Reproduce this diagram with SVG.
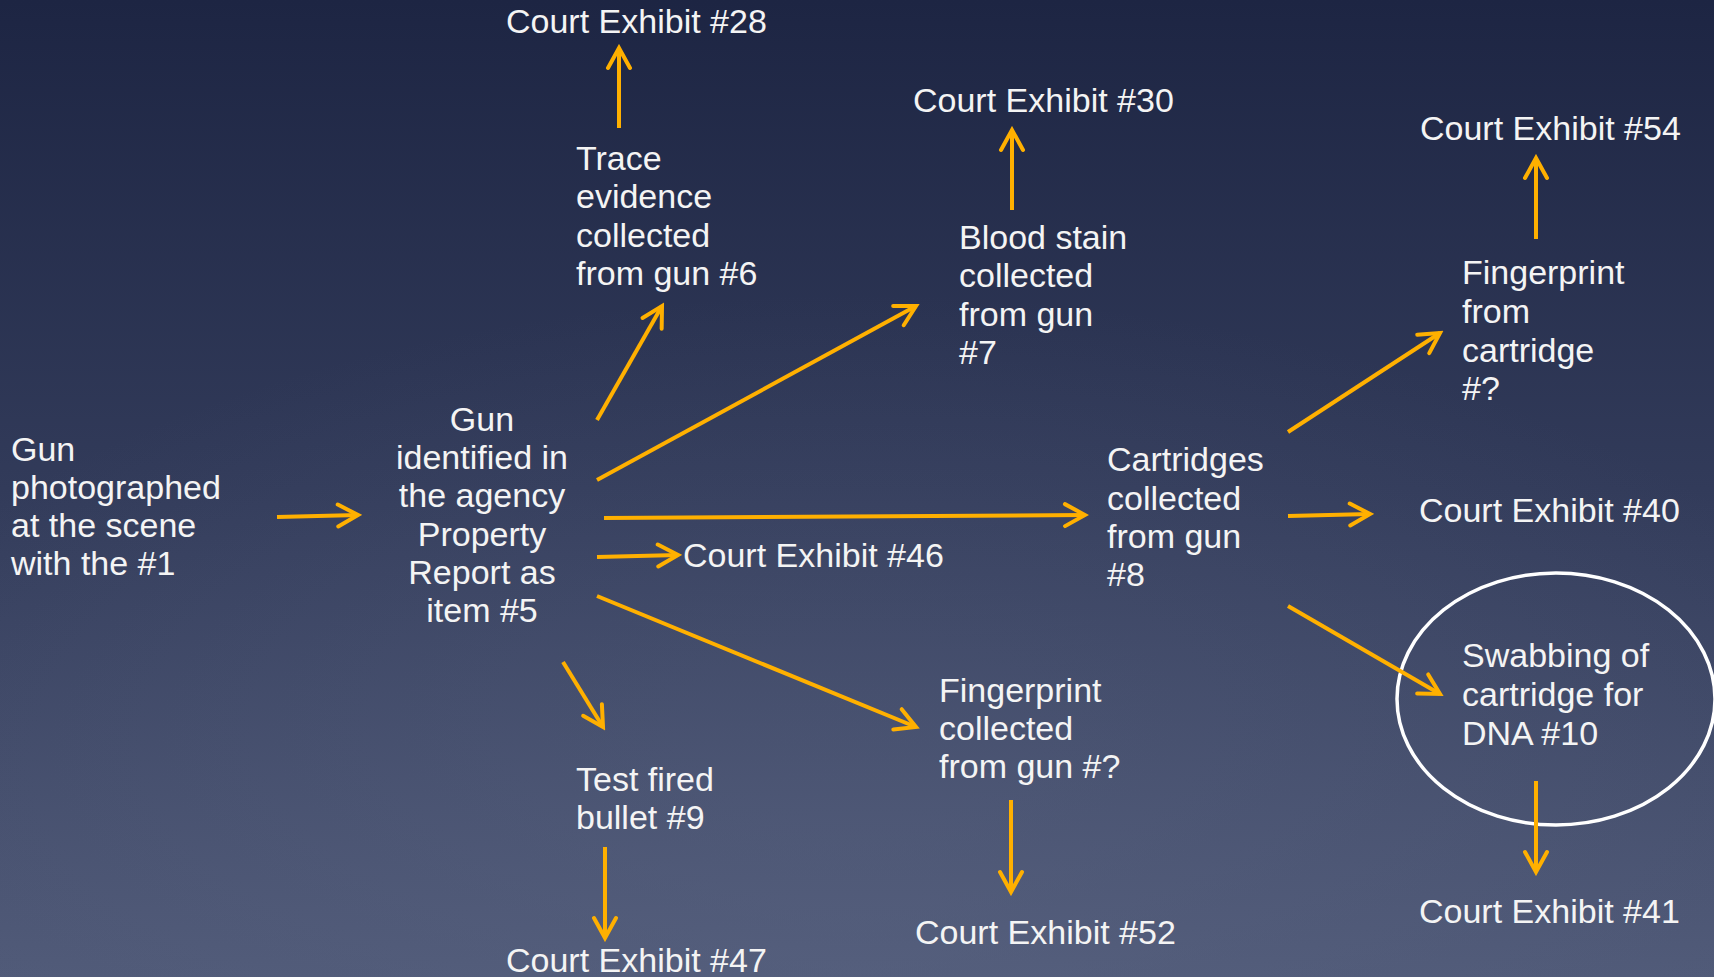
<svg xmlns="http://www.w3.org/2000/svg" width="1714" height="977" viewBox="0 0 1714 977">
<defs>
<linearGradient id="bg" x1="0" y1="0" x2="0" y2="1">
<stop offset="0" stop-color="#1d2543"/>
<stop offset="0.5" stop-color="#323b5a"/>
<stop offset="1" stop-color="#4f5977"/>
</linearGradient>
<radialGradient id="glow" cx="0.5" cy="1" r="0.7">
<stop offset="0" stop-color="#5a6482" stop-opacity="0.5"/>
<stop offset="1" stop-color="#5a6482" stop-opacity="0"/>
</radialGradient>
<marker id="ah" markerUnits="userSpaceOnUse" viewBox="-24 -14 28 28" markerWidth="28" markerHeight="28" refX="0" refY="0" orient="auto">
<path d="M -20 -11 L 0 0 L -20 11" fill="none" stroke="#FFB000" stroke-width="4" stroke-linecap="round" stroke-linejoin="miter"/>
</marker>
</defs>
<style>
.t{font-family:"Liberation Sans",Arial,sans-serif;font-size:34px;fill:#f4f4f4}
.c{text-anchor:middle}
.a{fill:none;stroke:#FFB000;stroke-width:4;marker-end:url(#ah)}
</style>
<rect width="1714" height="977" fill="url(#bg)"/>
<rect width="1714" height="977" fill="url(#glow)"/>

<g id="n-photographed"><text class="t"><tspan x="11" y="461">Gun</tspan><tspan x="11" y="499">photographed</tspan><tspan x="11" y="537">at the scene</tspan><tspan x="11" y="575">with the #1</tspan></text></g>
<g id="n-gun"><text class="t c"><tspan x="482" y="431">Gun</tspan><tspan x="482" y="469">identified in</tspan><tspan x="482" y="507">the agency</tspan><tspan x="482" y="546">Property</tspan><tspan x="482" y="584">Report as</tspan><tspan x="482" y="622">item #5</tspan></text></g>
<g id="n-trace"><text class="t"><tspan x="576" y="170">Trace</tspan><tspan x="576" y="208">evidence</tspan><tspan x="576" y="247">collected</tspan><tspan x="576" y="285">from gun #6</tspan></text></g>
<g id="n-ce28"><text class="t" x="506" y="33">Court Exhibit #28</text></g>
<g id="n-blood"><text class="t"><tspan x="959" y="249">Blood stain</tspan><tspan x="959" y="287">collected</tspan><tspan x="959" y="326">from gun</tspan><tspan x="959" y="364">#7</tspan></text></g>
<g id="n-ce30"><text class="t" x="913" y="112">Court Exhibit #30</text></g>
<g id="n-ce46"><text class="t" x="683" y="567">Court Exhibit #46</text></g>
<g id="n-test"><text class="t"><tspan x="576" y="791">Test fired</tspan><tspan x="576" y="829">bullet #9</tspan></text></g>
<g id="n-ce47"><text class="t" x="506" y="972">Court Exhibit #47</text></g>
<g id="n-fpgun"><text class="t"><tspan x="939" y="702">Fingerprint</tspan><tspan x="939" y="740">collected</tspan><tspan x="939" y="778">from gun #?</tspan></text></g>
<g id="n-ce52"><text class="t" x="915" y="944">Court Exhibit #52</text></g>
<g id="n-cart"><text class="t"><tspan x="1107" y="471">Cartridges</tspan><tspan x="1107" y="510">collected</tspan><tspan x="1107" y="548">from gun</tspan><tspan x="1107" y="586">#8</tspan></text></g>
<g id="n-fpcart"><text class="t"><tspan x="1462" y="284">Fingerprint</tspan><tspan x="1462" y="323">from</tspan><tspan x="1462" y="362">cartridge</tspan><tspan x="1462" y="400">#?</tspan></text></g>
<g id="n-ce54"><text class="t" x="1420" y="140">Court Exhibit #54</text></g>
<g id="n-ce40"><text class="t" x="1419" y="522">Court Exhibit #40</text></g>
<g id="n-swab"><ellipse cx="1556" cy="699" rx="159" ry="126" fill="none" stroke="#ffffff" stroke-width="3.5"/><text class="t"><tspan x="1462" y="667">Swabbing of</tspan><tspan x="1462" y="706">cartridge for</tspan><tspan x="1462" y="745">DNA #10</tspan></text></g>
<g id="n-ce41"><text class="t" x="1419" y="923">Court Exhibit #41</text></g>

<g id="connectors">
<line class="a" x1="277" y1="517" x2="358" y2="515"/>
<line class="a" x1="597" y1="420" x2="662" y2="306"/>
<line class="a" x1="619" y1="128" x2="619" y2="48"/>
<line class="a" x1="597" y1="480" x2="916" y2="306"/>
<line class="a" x1="1012" y1="210" x2="1012" y2="130"/>
<line class="a" x1="604" y1="518" x2="1085" y2="515"/>
<line class="a" x1="597" y1="557" x2="678" y2="555"/>
<line class="a" x1="597" y1="596" x2="916" y2="727"/>
<line class="a" x1="1011" y1="800" x2="1011" y2="892"/>
<line class="a" x1="563" y1="662" x2="603" y2="727"/>
<line class="a" x1="605" y1="847" x2="605" y2="938"/>
<line class="a" x1="1288" y1="432" x2="1440" y2="333"/>
<line class="a" x1="1536" y1="239" x2="1536" y2="158"/>
<line class="a" x1="1288" y1="516" x2="1370" y2="514"/>
<line class="a" x1="1288" y1="606" x2="1440" y2="694"/>
<line class="a" x1="1536" y1="781" x2="1536" y2="872"/>
</g>
</svg>
